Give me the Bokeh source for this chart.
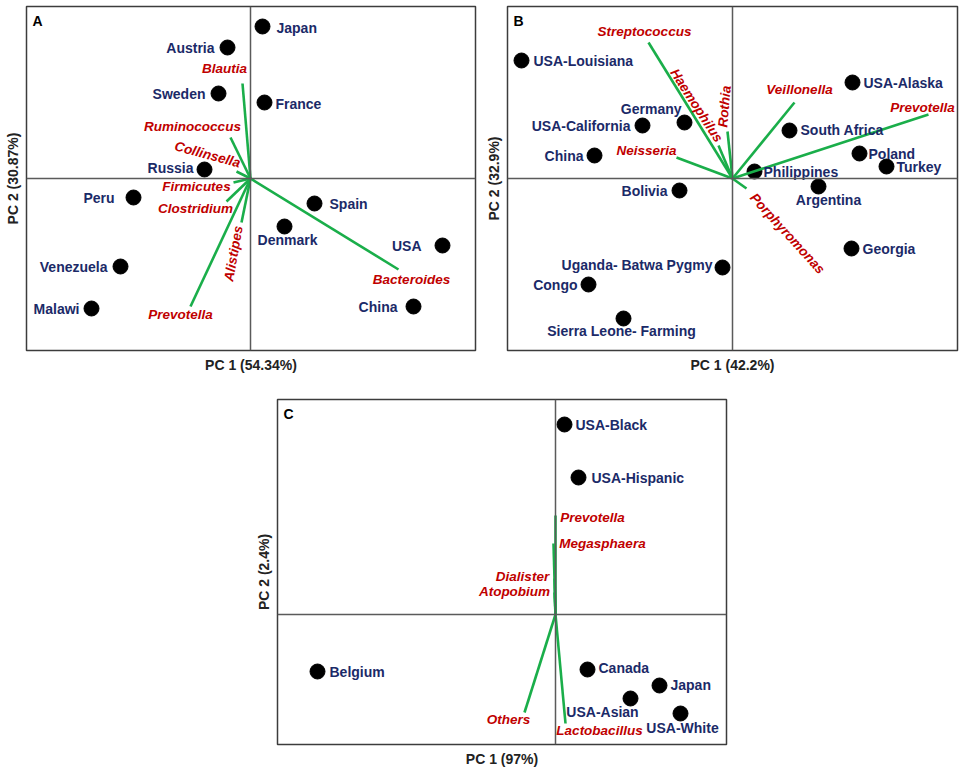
from bokeh.plotting import figure
from bokeh.layouts import column, row
from bokeh.models import Range1d, Span, ColumnDataSource, FixedTicker, Spacer
from bokeh.embed import file_html
from bokeh.resources import INLINE
from bokeh.core.properties import value

# ---------------- Panel A data ----------------
a_sites = ["Japan", "Austria", "Sweden", "France", "Russia", "Peru", "Spain",
           "Denmark", "USA", "Venezuela", "Malawi", "China"]
a_pc1 = [0.12, -0.23, -0.32, 0.14, -0.46, -1.17, 0.64, 0.34, 1.92, -1.30, -1.59, 1.63]
a_pc2 = [1.52, 1.31, 0.85, 0.76, 0.09, -0.19, -0.25, -0.48, -0.67, -0.88, -1.30, -1.28]
a_taxa = ["Blautia", "Ruminococcus", "Collinsella", "Firmicutes", "Clostridium",
          "Alistipes", "Prevotella", "Bacteroides"]
a_load1 = [-0.08, -0.20, -0.14, -0.17, -0.24, -0.09, -0.60, 1.48]
a_load2 = [0.95, 0.41, 0.07, -0.04, -0.23, -0.44, -1.28, -0.91]

# ---------------- Panel B data ----------------
b_sites = ["USA-Louisiana", "Germany", "USA-California", "China", "Bolivia",
           "South Africa", "USA-Alaska", "Poland", "Turkey", "Philippines",
           "Argentina", "Georgia", "Uganda- Batwa Pygmy", "Congo",
           "Sierra Leone- Farming"]
b_pc1 = [-2.11, -0.48, -0.90, -1.38, -0.53, 0.57, 1.20, 1.27, 1.54, 0.22,
         0.86, 1.19, -0.10, -1.44, -1.09]
b_pc2 = [1.18, 0.56, 0.53, 0.23, -0.12, 0.48, 0.96, 0.25, 0.12, 0.07,
         -0.08, -0.70, -0.89, -1.06, -1.40]
b_taxa = ["Streptococcus", "Haemophilus", "Rothia", "Neisseria", "Veillonella",
          "Prevotella", "Porphyromonas"]
b_load1 = [-0.84, -0.14, -0.05, -0.56, 0.62, 1.96, 0.14]
b_load2 = [1.36, 0.33, 0.47, 0.21, 0.76, 0.64, -0.10]

# ---------------- Panel C data ----------------
c_sites = ["USA-Black", "USA-Hispanic", "Belgium", "Canada", "Japan",
           "USA-Asian", "USA-White"]
c_pc1 = [0.09, 0.23, -2.38, 0.32, 1.04, 0.75, 1.25]
c_pc2 = [1.90, 1.37, -0.57, -0.55, -0.71, -0.84, -0.99]
c_taxa = ["Prevotella", "Megasphaera", "Dialister", "Atopobium", "Others",
          "Lactobacillus"]
c_load1 = [0.00, -0.02, -0.01, -0.01, -0.31, 0.10]
c_load2 = [0.99, 0.71, 0.36, 0.22, -0.98, -1.09]

# ---------------- label placement (align, dx px, dy px) ----------------
a_site_place = [("left", 14, 1), ("right", -13, 0), ("right", -13, 0), ("left", 11, 1),
                ("right", -11, -2), ("right", -19, 0), ("left", 15, 0), ("center", 3, 13),
                ("right", -21, 0), ("right", -13, 0), ("right", -12, 0), ("right", -16, 0)]
a_taxa_place = [(-18, -15, 0), (-38, -11, 0), (-29, -17, -15), (-37, 4, 0),
                (-31, 7, 0), (-8, 31, 80), (-10, 8, 0), (13, 10, 0)]
b_site_place = [("left", 12, 0), ("right", -3, -14), ("right", -12, 0), ("right", -11, 0),
                ("right", -12, 0), ("left", 11, -1), ("left", 11, 0), ("left", 9, 0),
                ("left", 10, 0), ("left", 9, 0), ("center", 10, 13), ("left", 11, 0),
                ("right", -10, -3), ("right", -11, 0), ("center", -2, 12)]
b_taxa_place = [(-4, -11, 0), (-22, -40, -57), (-3, -25, 85), (-30, -7, 0),
                (5, -13, 0), (-6, -7, 0), (41, 45, -47.6)]
c_site_place = [("left", 11, 0), ("left", 13, 0), ("left", 12, 0), ("left", 11, -2),
                ("left", 11, -1), ("center", -28, 13), ("center", 2, 14)]
c_taxa_place = [(37, 2, 0), (49, 0, 0), (-32, -2, 0), (-40, -1, 0), (-16, 7, 0), (34, 7, 0)]

FONT = value("Liberation Sans")
NAVY = "#1b2a68"
RED = "#c00000"
GREEN = "#1aae4a"


def panel(letter, xlab, ylab, xr, yr, sites, px, py, site_place, taxa, lx, ly, taxa_place,
          frame, borders):
    fw, fh = frame
    bl, br, bt, bb = borders
    p = figure(frame_width=fw, frame_height=fh,
               x_range=Range1d(*xr), y_range=Range1d(*yr),
               output_backend="svg", toolbar_location=None,
               min_border_left=bl, min_border_right=br, min_border_top=bt,
               min_border_bottom=bb)
    p.grid.visible = False
    p.outline_line_color = "#3c3c3c"
    p.outline_line_width = 1.5
    p.background_fill_color = "white"
    p.border_fill_color = "white"
    for ax, lab in ((p.xaxis, xlab), (p.yaxis, ylab)):
        ax.ticker = FixedTicker(ticks=[])
        ax.major_tick_out = 0
        ax.major_tick_in = 0
        ax.minor_tick_out = 0
        ax.minor_tick_in = 0
        ax.axis_line_color = None
        ax.axis_label = lab
        ax.axis_label_text_font = "Liberation Sans"
        ax.axis_label_text_font_style = "bold"
        ax.axis_label_text_font_size = "14px"
        ax.axis_label_text_color = "#222222"
        ax.axis_label_standoff = 6
    p.add_layout(Span(location=0, dimension="height", line_color="#5a5a5a", line_width=1.5))
    p.add_layout(Span(location=0, dimension="width", line_color="#5a5a5a", line_width=1.5))

    # sample points
    p.scatter(px, py, size=15, color="black")

    # loading vectors
    p.segment(x0=[0] * len(taxa), y0=[0] * len(taxa), x1=lx, y1=ly,
              line_color=GREEN, line_width=2.6)

    # site labels
    for align in ("left", "right", "center"):
        idx = [i for i, s in enumerate(site_place) if s[0] == align]
        if not idx:
            continue
        src = ColumnDataSource(dict(
            x=[px[i] for i in idx], y=[py[i] for i in idx], t=[sites[i] for i in idx],
            dx=[site_place[i][1] for i in idx], dy=[site_place[i][2] for i in idx]))
        p.text(x="x", y="y", text="t", source=src, x_offset="dx", y_offset="dy",
               text_align=align, text_baseline="middle", text_font=FONT,
               text_font_style="bold", text_font_size="14px", text_color=NAVY)

    # taxa labels
    src = ColumnDataSource(dict(
        x=lx, y=ly, t=taxa,
        dx=[t[0] for t in taxa_place], dy=[t[1] for t in taxa_place],
        ang=[t[2] for t in taxa_place]))
    p.text(x="x", y="y", text="t", source=src, x_offset="dx", y_offset="dy",
           angle="ang", angle_units="deg",
           text_align="center", text_baseline="middle", text_font=FONT,
           text_font_style="bold italic", text_font_size="13.5px", text_color=RED)

    # panel letter
    p.text(x=[xr[0]], y=[yr[1]], text=[letter], x_offset=6, y_offset=6,
           text_align="left", text_baseline="top", text_font=FONT,
           text_font_style="bold", text_font_size="14px", text_color="black")
    return p


pa = panel("A", "PC 1 (54.34%)", "PC 2 (30.87%)", (-2.24, 2.25), (-1.72, 1.72),
           a_sites, a_pc1, a_pc2, a_site_place, a_taxa, a_load1, a_load2, a_taxa_place,
           (449, 344), (26, 7, 6, 28))
pb = panel("B", "PC 1 (42.2%)", "PC 2 (32.9%)", (-2.25, 2.25), (-1.72, 1.72),
           b_sites, b_pc1, b_pc2, b_site_place, b_taxa, b_load1, b_load2, b_taxa_place,
           (450, 344), (25, 7, 6, 28))
pc = panel("C", "PC 1 (97%)", "PC 2 (2.4%)", (-2.78, 1.71), (-1.30, 2.15),
           c_sites, c_pc1, c_pc2, c_site_place, c_taxa, c_load1, c_load2, c_taxa_place,
           (449, 345), (25, 5, 21, 25))

layout = column(row(pa, pb, spacing=0), row(Spacer(width=252, height=10), pc, spacing=0),
                spacing=0)

open("out.html", "w").write(file_html(layout, INLINE))
